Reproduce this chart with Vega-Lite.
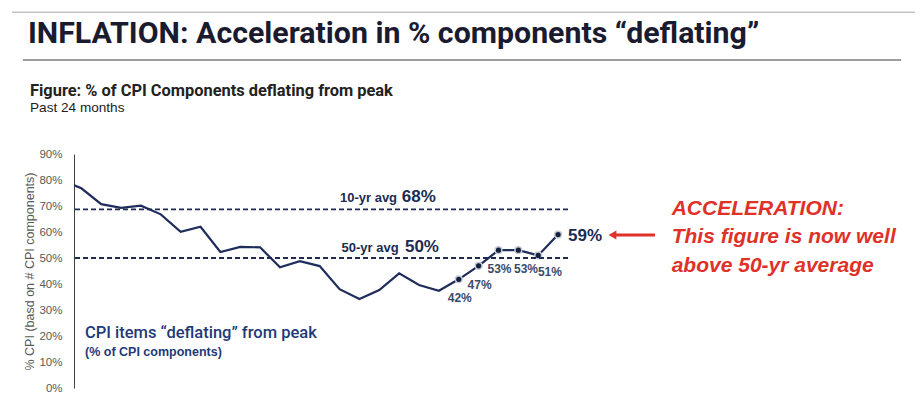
{
  "$schema": "https://vega.github.io/schema/vega-lite/v6.json",
  "autosize": "none",
  "width": 494,
  "height": 234,
  "padding": {"left": 74, "top": 154, "right": 352, "bottom": 8},
  "background": "white",
  "config": {
    "view": {"stroke": null},
    "font": "Liberation Sans",
    "axisY": {"tickCount": 10, "labelOverlap": false, "labelFlush": false}
  },
  "datasets": {
    "cpi": [
      {"m": 0, "pct": 0.80},
      {"m": 1, "pct": 0.768},
      {"m": 2, "pct": 0.707},
      {"m": 3, "pct": 0.693},
      {"m": 4, "pct": 0.701},
      {"m": 5, "pct": 0.668},
      {"m": 6, "pct": 0.601},
      {"m": 7, "pct": 0.620},
      {"m": 8, "pct": 0.523},
      {"m": 9, "pct": 0.543},
      {"m": 10, "pct": 0.541},
      {"m": 11, "pct": 0.464},
      {"m": 12, "pct": 0.488},
      {"m": 13, "pct": 0.469},
      {"m": 14, "pct": 0.380},
      {"m": 15, "pct": 0.342},
      {"m": 16, "pct": 0.377},
      {"m": 17, "pct": 0.441},
      {"m": 18, "pct": 0.396},
      {"m": 19, "pct": 0.374},
      {"m": 20, "pct": 0.418},
      {"m": 21, "pct": 0.47},
      {"m": 22, "pct": 0.53},
      {"m": 23, "pct": 0.53},
      {"m": 24, "pct": 0.51},
      {"m": 25, "pct": 0.59}
    ],
    "one": [{}]
  },
  "layer": [
    {
      "data": {"name": "cpi"},
      "encoding": {
        "x": {"field": "m", "type": "quantitative", "scale": {"domain": [0.63, 25.5], "nice": false, "zero": false}, "axis": null},
        "y": {
          "field": "pct", "type": "quantitative",
          "scale": {"domain": [0, 0.9], "nice": false},
          "axis": {
            "format": ".0%", "values": [0, 0.1, 0.2, 0.3, 0.4, 0.5, 0.6, 0.7, 0.8, 0.9],
            "tickCount": 10, "labelOverlap": false, "labelFlush": false,
            "grid": false, "ticks": false, "labelPadding": 12,
            "labelFont": "Liberation Sans", "labelFontSize": 11.5, "labelColor": "#595959",
            "domainColor": "#404040", "domainWidth": 1,
            "title": "% CPI (basd on # CPI components)",
            "titleFont": "Liberation Sans", "titleFontSize": 12.5, "titleFontWeight": "normal",
            "titleColor": "#595959", "titlePadding": 2
          }
        }
      },
      "layer": [
        {"mark": {"type": "line", "color": "#1f2d5c", "strokeWidth": 2.2, "clip": true}},
        {"transform": [{"filter": "datum.m >= 20"}],
         "mark": {"type": "point", "filled": true, "fill": "#14213d", "stroke": "#c5cad6", "strokeWidth": 1.5, "size": 45, "opacity": 1}},
        {"transform": [{"filter": "datum.m >= 20 && datum.m <= 22"}],
         "mark": {"type": "text", "align": "center", "baseline": "alphabetic", "dx": 1, "dy": 22.8, "fontSize": 12, "fontWeight": "bold", "color": "#3b4a6b"},
         "encoding": {"text": {"field": "pct", "format": ".0%"}}},
        {"transform": [{"filter": "datum.m == 23"}],
         "mark": {"type": "text", "align": "center", "baseline": "alphabetic", "dx": 7.7, "dy": 22.7, "fontSize": 12, "fontWeight": "bold", "color": "#3b4a6b"},
         "encoding": {"text": {"field": "pct", "format": ".0%"}}},
        {"transform": [{"filter": "datum.m == 24"}],
         "mark": {"type": "text", "align": "center", "baseline": "alphabetic", "dx": 11.7, "dy": 20.7, "fontSize": 12, "fontWeight": "bold", "color": "#3b4a6b"},
         "encoding": {"text": {"field": "pct", "format": ".0%"}}},
        {"transform": [{"filter": "datum.m == 25"}],
         "mark": {"type": "text", "align": "left", "baseline": "middle", "dx": 10, "dy": 1.5, "fontSize": 17, "fontWeight": "bold", "color": "#1c2b50"},
         "encoding": {"text": {"field": "pct", "format": ".0%"}}}
      ]
    },
    {
      "data": {"name": "one"},
      "layer": [
        {"mark": {"type": "rule", "color": "#1c2b4f", "strokeWidth": 1.8, "strokeDash": [5, 3]},
         "encoding": {"y": {"datum": 0.687}}},
        {"mark": {"type": "rule", "color": "#1c2b4f", "strokeWidth": 1.8, "strokeDash": [5, 3]},
         "encoding": {"y": {"datum": 0.5}}},
        {"mark": {"type": "rule", "color": "#c4c4c4", "strokeWidth": 1.5},
         "encoding": {"x": {"datum": -2.49}, "x2": {"datum": 42.97}, "y": {"datum": 1.445}}},
        {"mark": {"type": "rule", "color": "#3a3a3a", "strokeWidth": 1},
         "encoding": {"x": {"datum": -1.94}, "x2": {"datum": 42.27}, "y": {"datum": 1.2615}}},
        {"mark": {"type": "text", "text": "INFLATION: Acceleration in % components “deflating”", "align": "left", "baseline": "alphabetic", "fontSize": 30.3, "fontWeight": "bold", "font": "Roboto", "color": "#1b1b2f"},
         "encoding": {"x": {"datum": -1.686}, "y": {"datum": 1.3258}}},
        {"mark": {"type": "text", "text": "Figure: % of CPI Components deflating from peak", "align": "left", "baseline": "alphabetic", "fontSize": 16.4, "fontWeight": "bold", "font": "Roboto", "color": "#222222"},
         "encoding": {"x": {"datum": -1.585}, "y": {"datum": 1.1242}}},
        {"mark": {"type": "text", "text": "Past 24 months", "align": "left", "baseline": "alphabetic", "fontSize": 13.6, "font": "Liberation Sans", "color": "#222222"},
         "encoding": {"x": {"datum": -1.585}, "y": {"datum": 1.0615}}},
        {"mark": {"type": "text", "text": "10-yr avg", "align": "left", "baseline": "alphabetic", "fontSize": 13, "fontWeight": "bold", "color": "#1c2b50"},
         "encoding": {"x": {"datum": 14.02}, "y": {"datum": 0.7165}}},
        {"mark": {"type": "text", "text": "68%", "align": "left", "baseline": "alphabetic", "fontSize": 17, "fontWeight": "bold", "color": "#1c2b50"},
         "encoding": {"x": {"datum": 17.13}, "y": {"datum": 0.7165}}},
        {"mark": {"type": "text", "text": "50-yr avg", "align": "left", "baseline": "alphabetic", "fontSize": 13, "fontWeight": "bold", "color": "#1c2b50"},
         "encoding": {"x": {"datum": 14.1}, "y": {"datum": 0.5242}}},
        {"mark": {"type": "text", "text": "50%", "align": "left", "baseline": "alphabetic", "fontSize": 17, "fontWeight": "bold", "color": "#1c2b50"},
         "encoding": {"x": {"datum": 17.29}, "y": {"datum": 0.5242}}},
        {"mark": {"type": "text", "text": "CPI items “deflating” from peak", "align": "left", "baseline": "alphabetic", "fontSize": 16.5, "font": "Roboto", "fontWeight": 500, "color": "#1f3a78"},
         "encoding": {"x": {"datum": 1.184}, "y": {"datum": 0.1923}}},
        {"mark": {"type": "text", "text": "(% of CPI components)", "align": "left", "baseline": "alphabetic", "fontSize": 12.5, "fontWeight": "bold", "color": "#1f3a78"},
         "encoding": {"x": {"datum": 1.184}, "y": {"datum": 0.1231}}},
        {"mark": {"type": "rule", "color": "#e03128", "strokeWidth": 3},
         "encoding": {"x": {"datum": 27.92}, "x2": {"datum": 29.88}, "y": {"datum": 0.5885}}},
        {"mark": {"type": "point", "shape": "triangle-left", "filled": true, "color": "#e03128", "size": 80, "opacity": 1},
         "encoding": {"x": {"datum": 27.74}, "y": {"datum": 0.5885}}},
        {"mark": {"type": "text", "text": ["ACCELERATION:", "This figure is now well", "above 50-yr average"], "align": "left", "baseline": "alphabetic", "lineHeight": 28.3, "fontSize": 21, "fontWeight": "bold", "fontStyle": "italic", "color": "#e03128"},
         "encoding": {"x": {"datum": 30.72}, "y": {"datum": 0.6654}}}
      ]
    }
  ]
}
